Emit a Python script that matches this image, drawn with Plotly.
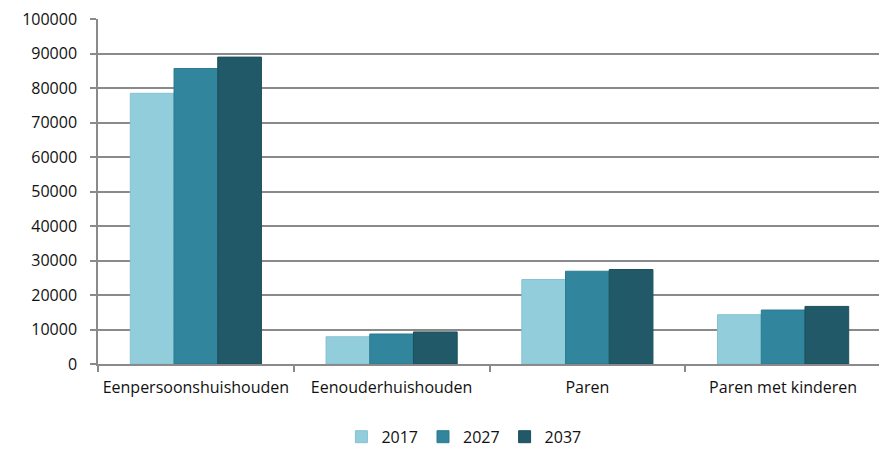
import plotly.graph_objects as go

categories = ["Eenpersoonshuishouden", "Eenouderhuishouden", "Paren", "Paren met kinderen"]
years = ["2017", "2027", "2037"]
values_2017 = [78500, 7900, 24500, 14300]
values_2027 = [85700, 8700, 26900, 15650]
values_2037 = [89000, 9300, 27400, 16700]
y_max = 100000
colors = ["#92CDDC", "#31859C", "#215968"]
edge_colors = ["#86C2D1", "#2C7A8F", "#1D505D"]

series = [values_2017, values_2027, values_2037]

fig = go.Figure()
for name, vals, c, ec in zip(years, series, colors, edge_colors):
    fig.add_trace(go.Bar(
        x=categories, y=vals, name=name,
        marker=dict(color=c, line=dict(color=ec, width=1)),
    ))

fig.update_layout(
    width=887, height=449,
    barmode="group", bargap=0.33, bargroupgap=0,
    plot_bgcolor="white", paper_bgcolor="white",
    margin=dict(l=90, r=14, t=11, b=93, autoexpand=False),
    font=dict(family="Open Sans, Noto Sans, sans-serif", size=16, color="#111111"),
    legend=dict(orientation="h", x=0.514, xanchor="center", xref="container",
                y=0.045, yanchor="middle", yref="container",
                font=dict(size=16), itemwidth=30, traceorder="normal"),
    showlegend=True,
)
fig.update_yaxes(
    range=[0, y_max * 1.0005], tickvals=list(range(0, y_max + 1, 10000)), tickformat="d",
    showgrid=True, gridcolor="#8a8a8a", gridwidth=1.5,
    showline=True, linecolor="#8a8a8a", linewidth=1.5,
    ticks="outside", ticklen=6, tickcolor="#8a8a8a", tickwidth=1.5,
    ticklabelstandoff=10, ticklabeloverflow="allow",
    zeroline=False, tickfont=dict(size=16), automargin=False,
)
fig.update_xaxes(
    showline=True, linecolor="#8a8a8a", linewidth=1.5,
    ticks="outside", tickson="boundaries", ticklen=6, tickcolor="#8a8a8a", tickwidth=1.5,
    ticklabelstandoff=8,
    tickfont=dict(size=16), tickangle=0, automargin=False,
)

fig.write_html("out.html")
